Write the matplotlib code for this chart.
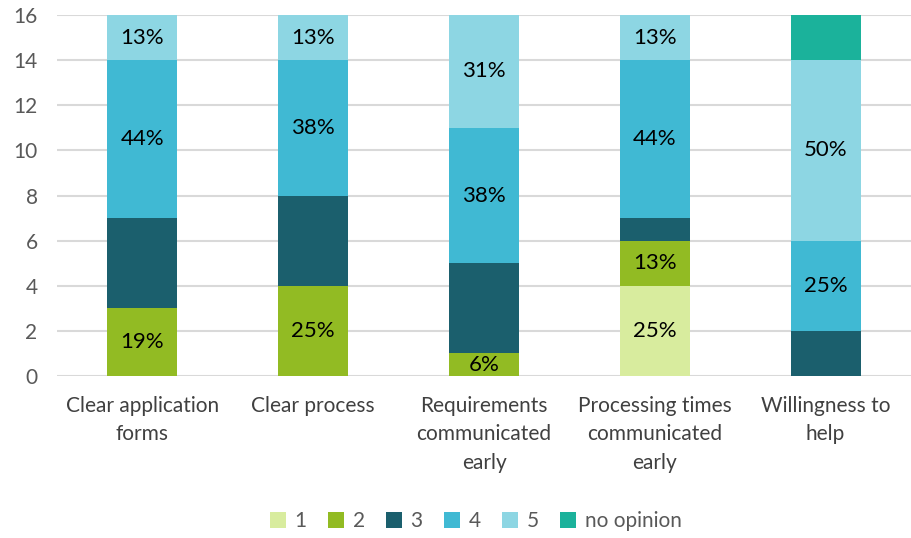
import numpy as np
import matplotlib.pyplot as plt

plt.rcParams['font.family'] = ['Lato', 'DejaVu Sans']

categories = ["Clear application\nforms", "Clear process",
              "Requirements\ncommunicated\nearly", "Processing times\ncommunicated\nearly",
              "Willingness to\nhelp"]
series_names = ["1", "2", "3", "4", "5", "no opinion"]
counts = {
    "1": [0, 0, 0, 4, 0],
    "2": [3, 4, 1, 2, 0],
    "3": [4, 4, 4, 1, 2],
    "4": [7, 6, 6, 7, 4],
    "5": [2, 2, 5, 2, 8],
    "no opinion": [0, 0, 0, 0, 2],
}
colors = {"1": "#d8ec9e", "2": "#92bb23", "3": "#1b5f6d",
          "4": "#40b9d3", "5": "#8dd6e3", "no opinion": "#1bb29b"}
labelled = ["1", "2", "4", "5"]

fig = plt.figure(figsize=(9.11, 5.38), dpi=100)
ax = fig.add_axes([0.0626, 0.301, 0.9374, 0.671])

x = np.arange(len(categories))
total = np.sum([counts[s] for s in series_names], axis=0)
bottom = np.zeros(len(categories))
for s in series_names:
    vals = np.array(counts[s], dtype=float)
    ax.bar(x, vals, 0.41, bottom=bottom, color=colors[s], label=s, zorder=3)
    if s in labelled:
        for i, v in enumerate(vals):
            if v > 0:
                pct = int(v / total[i] * 100 + 0.5)
                ax.text(x[i], bottom[i] + v / 2, f"{pct}%", ha='center', va='center',
                        fontsize=16, color='black', zorder=4)
    bottom += vals

ax.set_xlim(-0.5, len(categories) - 0.5)
ax.set_ylim(0, 16)
ax.set_yticks(range(0, 17, 2))
ax.set_xticks(x)
ax.set_xticklabels(categories, fontsize=15, color='#404040', linespacing=1.55)
ax.tick_params(axis='y', labelsize=15, labelcolor='#595959', length=0, pad=14)
ax.tick_params(axis='x', length=0, pad=14)
ax.grid(axis='y', color='#d9d9d9', linewidth=1.5, zorder=0)
for sp in ax.spines.values():
    sp.set_visible(False)

fig.legend(loc='lower center', bbox_to_anchor=(0.522, -0.022), ncol=6, frameon=False,
           fontsize=15, handlelength=0.8, handleheight=0.8, handletextpad=0.4,
           columnspacing=1.0, labelcolor='#595959')

plt.savefig("out.png", dpi=100)
